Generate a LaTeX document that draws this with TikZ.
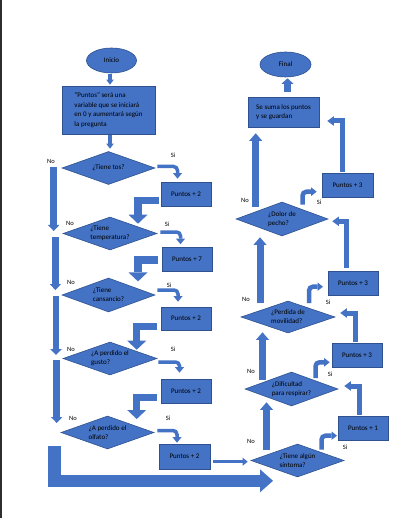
\documentclass[tikz,border=0pt]{standalone}
\usepackage{fontspec}
\setmainfont{Carlito}
\usetikzlibrary{shapes.geometric,calc,arrows.meta}
\definecolor{flowblue}{HTML}{4472C4}
\definecolor{flowedge}{HTML}{2F528F}
\definecolor{frameline}{HTML}{2E2E2E}
\begin{document}
\begin{tikzpicture}[x=1pt,y=-1pt,
  shapetext/.style={font=\fontsize{7}{9}\selectfont, text=black},
  terminal/.style={ellipse, fill=flowblue, draw=flowedge, line width=0.6pt, inner sep=0pt, shapetext},
  procbox/.style={rectangle, fill=flowblue, draw=flowedge, line width=0.6pt, inner sep=0pt, shapetext, minimum width=50pt, minimum height=24pt},
  question/.style={diamond, aspect=2.8, fill=flowblue, draw=flowedge, line width=0.6pt, inner sep=0pt, align=left, shapetext, minimum width=93pt, minimum height=33pt},
  answer/.style={font=\fontsize{6.5}{7}\selectfont, inner sep=0pt, text=black},
  feed/.style={draw=flowblue, line width=3.5pt, -{Triangle[width=7.5pt,length=5pt,line width=0pt]}},
  siturn/.style={draw=flowblue, line width=3.5pt, rounded corners=4pt, -{Triangle[width=9pt,length=5.5pt,line width=0pt]}},
  backturn/.style={draw=flowblue, line width=7.5pt, -{Triangle[width=19pt,length=9pt,line width=0pt]}},
  nodown/.style={draw=flowblue, line width=6.5pt, -{Triangle[width=11.5pt,length=6pt,line width=0pt]}},
  bigturn/.style={draw=flowblue, line width=12.5pt, -{Triangle[width=23pt,length=13pt,line width=0pt]}},
  link/.style={draw=flowblue, line width=3pt, -{Triangle[width=8pt,length=5pt,line width=0pt]}},
  upgo/.style={draw=flowblue, line width=7pt, -{Triangle[width=13pt,length=7.5pt,line width=0pt]}},
  upfinal/.style={draw=flowblue, line width=7pt, -{Triangle[width=12pt,length=5.5pt,line width=0pt]}},
  backup/.style={draw=flowblue, line width=5pt, -{Triangle[width=9.5pt,length=6.5pt,line width=0pt]}},
  siup/.style={draw=flowblue, line width=4.5pt, rounded corners=4pt, -{Triangle[width=8.5pt,length=5.5pt,line width=0pt]}}
]
% page and left frame line
\fill[white] (0,0) rectangle (401,518);
\useasboundingbox (0,0) rectangle (401,518);
\fill[frameline] (0,0) rectangle (2.3,518);

% left column: symptom questions
\node[terminal, minimum width=50pt, minimum height=25pt] (inicio) at (111.5,60.5) {Inicio};
\node[procbox, minimum width=93pt, minimum height=48pt, align=left, font=\fontsize{7}{9.6}\selectfont] (puntosvar) at (108.5,110)
  {“Puntos” será una\\variable que se iniciará\\en 0 y aumentará según\\la pregunta};
\node[question] (tos) at (108.5,168) {¿Tiene tos?};
\node[procbox] (p1) at (186,194) {Puntos + 2};
\node[question, minimum width=94pt] (temp) at (110,233.5) {¿Tiene\\temperatura?};
\node[procbox] (p2) at (187,259) {Puntos + 7};
\node[question, minimum height=34pt] (cans) at (108.5,295) {¿Tiene\\cansancio?};
\node[procbox, minimum height=23pt] (p3) at (186,318.5) {Puntos + 2};
\node[question, minimum width=94pt] (gusto) at (110,358.5) {¿A perdido el\\gusto?};
\node[procbox] (p4) at (186,391) {Puntos + 2};
\node[question] (olfato) at (107.5,432.5) {¿A perdido el\\olfato?};
\node[procbox, minimum width=51pt, minimum height=25pt] (p5) at (184.5,456.5) {Puntos + 2};

% right column: serious symptoms, read bottom to top
\node[terminal, minimum width=51pt, minimum height=25pt] (final) at (285.5,64.5) {Final};
\node[procbox, minimum width=71pt, minimum height=30pt, align=left] (suma) at (283.5,112) {Se suma los puntos\\y se guardan};
\node[procbox, minimum width=51pt] (q1) at (347.5,185) {Puntos + 3};
\node[question, minimum width=92pt, minimum height=34pt] (dolor) at (282,219) {¿Dolor de\\pecho?};
\node[procbox] (q2) at (353,283) {Puntos + 3};
\node[question, minimum width=94pt, minimum height=32pt] (movil) at (288,317) {¿Perdida de\\movilidad?};
\node[procbox] (q3) at (357,355) {Puntos + 3};
\node[question, minimum height=34pt] (resp) at (291.5,389) {¿Dificultad\\para respirar?};
\node[procbox] (q4) at (363,428) {Puntos + 1};
\node[question] (sint) at (297.5,460.5) {¿Tiene algún\\síntoma?};

% start of the flow
\draw[feed] ($(inicio.south)+(-1.5,0.5)$) -- ($(puntosvar.north)+(1.5,-1)$);
\draw[feed] ($(puntosvar.south)+(1.5,1)$) -- ($(tos.north)+(1.5,-2.5)$);

% "Si" branches to the score boxes
\draw[siturn] ($(tos.east)+(2,-1.5)$) -| ($(p1.north)+(-8.5,-3)$);
\draw[siturn] ($(temp.east)+(3,-1.5)$) -| ($(p2.north)+(-6.5,-2.5)$);
\draw[siturn] ($(cans.east)+(2,-5)$) -| ($(p3.north)+(-8,-5)$);
\draw[siturn] ($(gusto.east)+(1,3.5)$) -| ($(p4.north)+(-6.5,-6)$);
\draw[siturn] ($(olfato.east)+(3,-2)$) -| ($(p5.north)+(-7.5,-1)$);

% back from each score box to the next question
\draw[backturn] ($(p1.west)+(-2,6.5)$) -| ($(temp.north)+(28,7)$);
\draw[backturn] ($(p2.west)+(-4,1)$) -| ($(cans.north)+(29.5,3.7)$);
\draw[backturn] ($(p3.west)+(-4,8.2)$) -| ($(gusto.north)+(26.7,8)$);
\draw[backturn] ($(p4.west)+(-4,6.3)$) -| ($(olfato.north)+(29.2,3.3)$);

% "No" path down the left side
\draw[nodown] ($(tos.west)+(-8,-1)$) -- ($(temp.west)+(-9,-2.5)$);
\draw[nodown] ($(temp.west)+(-7.3,3.5)$) -- ($(cans.west)+(-6.3,-5)$);
\draw[nodown] ($(cans.west)+(-5.7,1)$) -- ($(gusto.west)+(-6.7,-3.5)$);
\draw[nodown] ($(gusto.west)+(-6,1.5)$) -- ($(olfato.west)+(-4,-9.5)$);
\draw[bigturn] ($(olfato.west)+(-6,13.5)$) |- ($(sint.south)+(-24.5,3.5)$);
\draw[link] ($(p5.east)+(3,5.2)$) -- ($(sint.west)+(-3,1.2)$);

% "No" path up the right column
\draw[upfinal] ($(suma.north)+(4,-5)$) -- ($(final.south)+(2,1)$);
\draw[upgo] ($(dolor.north)+(-26.3,5)$) -- ($(suma.south)+(-27.8,6)$);
\draw[upgo] ($(movil.north)+(-28,2)$) -- ($(dolor.south)+(-22,1)$);
\draw[upgo] ($(resp.north)+(-29,8)$) -- ($(movil.south)+(-25.5,-1)$);
\draw[upgo] ($(sint.north)+(-31,6)$) -- ($(resp.south)+(-25,-4)$);

% score boxes back to the next question
\draw[backup] ($(q1.north)+(-5,-1)$) |- ($(suma.east)+(8,9)$);
\draw[backup] ($(q2.north)+(-6.5,-3)$) |- ($(dolor.east)+(4,2.3)$);
\draw[backup] ($(q3.north)+(-1.5,-1)$) |- ($(movil.east)+(5,-4)$);
\draw[backup] ($(q4.north)+(-3.5,-1)$) |- ($(resp.east)+(6,-3)$);

% "Si" branches on the right
\draw[siup] ($(dolor.north)+(20.5,3)$) |- ($(q1.west)+(-5,6.7)$);
\draw[siup] ($(movil.north)+(21,2.3)$) |- ($(q2.west)+(-4.7,3.7)$);
\draw[siup] ($(resp.north)+(24,6.3)$) |- ($(q3.west)+(-2,7.3)$);
\draw[siup] ($(sint.north)+(24,6)$) |- ($(q4.west)+(-0.7,7.7)$);

% answer labels
\node[answer] (no1) at (51,161) {No};
\node[answer] (no2) at (70,223) {No};
\node[answer] (no3) at (71,282) {No};
\node[answer] (no4) at (71,349) {No};
\node[answer] (no5) at (73,418) {No};
\node[answer] (no6) at (245,200) {No};
\node[answer] (no7) at (246,299) {No};
\node[answer] (no8) at (251,371) {No};
\node[answer] (no9) at (251,441) {No};
\node[answer] (si1) at (173,155) {Si};
\node[answer] (si2) at (167,224) {Si};
\node[answer] (si3) at (169,285) {Si};
\node[answer] (si4) at (173,349) {Si};
\node[answer] (si5) at (168,418) {Si};
\node[answer] (si6) at (319,202) {Si};
\node[answer] (si7) at (328,302) {Si};
\node[answer] (si8) at (330,374) {Si};
\node[answer] (si9) at (345,447) {Si};
\end{tikzpicture}
\end{document}
